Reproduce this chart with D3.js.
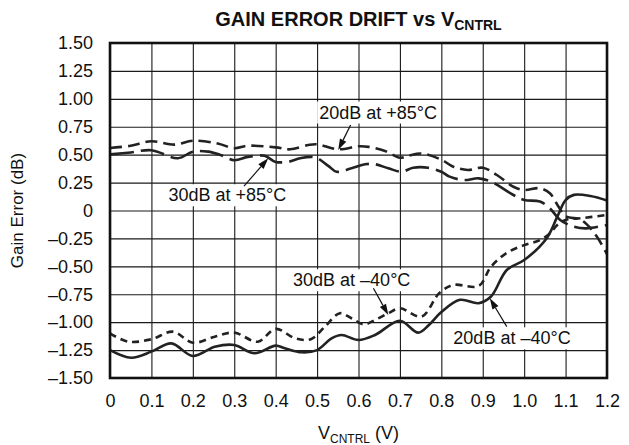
<!DOCTYPE html>
<html>
<head>
<meta charset="utf-8">
<script src="https://cdn.jsdelivr.net/npm/d3@7"></script>
<style>
  html, body { margin: 0; padding: 0; background: #fff; }
  svg { display: block; font-family: "Liberation Sans", Arial, Helvetica, sans-serif; }
</style>
</head>
<body>
<div id="chart"></div>
<script>
// ticks
const xTicks = [0, 0.1, 0.2, 0.3, 0.4, 0.5, 0.6, 0.7, 0.8, 0.9, 1.0, 1.1, 1.2];
const xTickLabels = ["0", "0.1", "0.2", "0.3", "0.4", "0.5", "0.6", "0.7", "0.8", "0.9", "1.0", "1.1", "1.2"];
const yTicks = [1.5, 1.25, 1.0, 0.75, 0.5, 0.25, 0, -0.25, -0.5, -0.75, -1.0, -1.25, -1.5];
const yTickLabels = ["1.50", "1.25", "1.00", "0.75", "0.50", "0.25", "0", "\u20130.25", "\u20130.50", "\u20130.75", "\u20131.00", "\u20131.25", "\u20131.50"];

// 20dB at +85°C (dashed)
const v20hot = [0, 0.05, 0.1, 0.156, 0.2, 0.26, 0.3, 0.333, 0.4, 0.435, 0.479, 0.5, 0.551, 0.6, 0.624, 0.664, 0.7, 0.72, 0.752, 0.8, 0.829, 0.864, 0.9, 0.934, 0.974, 1.0, 1.038, 1.062, 1.083, 1.1, 1.135, 1.15, 1.175, 1.2];
const g20hot = [0.56, 0.58, 0.62, 0.59, 0.625, 0.60, 0.557, 0.58, 0.565, 0.548, 0.587, 0.593, 0.548, 0.575, 0.57, 0.533, 0.473, 0.49, 0.51, 0.455, 0.392, 0.363, 0.383, 0.318, 0.213, 0.184, 0.199, 0.154, 0.034, -0.05, -0.08, -0.12, -0.23, -0.39];

// 30dB at +85°C (long dash)
const v30hot = [0, 0.05, 0.1, 0.164, 0.2, 0.237, 0.265, 0.3, 0.333, 0.373, 0.4, 0.435, 0.459, 0.495, 0.527, 0.547, 0.583, 0.616, 0.64, 0.672, 0.704, 0.732, 0.768, 0.8, 0.82, 0.855, 0.89, 0.92, 0.974, 1.0, 1.038, 1.062, 1.087, 1.12, 1.15, 1.2];
const g30hot = [0.503, 0.52, 0.54, 0.468, 0.527, 0.527, 0.50, 0.45, 0.48, 0.49, 0.435, 0.44, 0.468, 0.476, 0.40, 0.347, 0.378, 0.414, 0.414, 0.378, 0.347, 0.383, 0.383, 0.347, 0.303, 0.273, 0.288, 0.258, 0.139, 0.095, 0.08, 0.02, -0.085, -0.145, -0.16, -0.13];

// 30dB at -40°C (short dash)
const v30cold = [0, 0.044, 0.1, 0.152, 0.2, 0.253, 0.3, 0.357, 0.4, 0.447, 0.485, 0.519, 0.555, 0.583, 0.612, 0.64, 0.672, 0.7, 0.752, 0.795, 0.829, 0.89, 0.92, 0.958, 1.0, 1.038, 1.062, 1.08, 1.1, 1.135, 1.2];
const g30cold = [-1.10, -1.175, -1.153, -1.085, -1.184, -1.13, -1.094, -1.175, -1.06, -1.145, -1.153, -1.04, -0.92, -0.965, -1.02, -0.98, -0.92, -0.876, -0.95, -0.74, -0.667, -0.676, -0.503, -0.38, -0.31, -0.265, -0.205, -0.13, -0.085, -0.07, -0.04];

// 20dB at -40°C (solid)
const v20cold = [0, 0.051, 0.1, 0.148, 0.2, 0.253, 0.3, 0.349, 0.4, 0.422, 0.463, 0.5, 0.535, 0.559, 0.6, 0.64, 0.7, 0.744, 0.77, 0.8, 0.845, 0.89, 0.92, 0.958, 1.0, 1.054, 1.08, 1.1, 1.12, 1.16, 1.2];
const g20cold = [-1.25, -1.318, -1.264, -1.19, -1.303, -1.22, -1.204, -1.279, -1.21, -1.234, -1.27, -1.25, -1.145, -1.115, -1.16, -1.115, -0.987, -1.094, -1.025, -0.91, -0.80, -0.83, -0.77, -0.533, -0.444, -0.25, -0.055, 0.094, 0.14, 0.13, 0.09];

// annotations (data units): label position, arrow tail, arrow tip
const notes = [
  { text: "20dB at +85\u00B0C", x: 0.505, y: 0.88, x1: 0.581, y1: 0.766, x2: 0.551, y2: 0.542 },
  { text: "30dB at +85\u00B0C", x: 0.141, y: 0.139, x1: 0.3235, y1: 0.219, x2: 0.382, y2: 0.467 },
  { text: "30dB at \u201340\u00B0C", x: 0.442, y: -0.622, x1: 0.636, y1: -0.697, x2: 0.672, y2: -0.936 },
  { text: "20dB at \u201340\u00B0C", x: 0.829, y: -1.142, x1: 0.958, y1: -1.04, x2: 0.917, y2: -0.786 }
];

const width = 629, height = 445;
const margin = { top: 43, right: 22, bottom: 67, left: 110 };
const w = width - margin.left - margin.right;
const h = height - margin.top - margin.bottom;
const fs = 18;

const svg = d3.select("#chart").append("svg")
  .attr("width", width).attr("height", height);

const g = svg.append("g").attr("transform", `translate(${margin.left},${margin.top})`);

const x = d3.scaleLinear().domain([0, 1.2]).range([0, w]);
const y = d3.scaleLinear().domain([-1.5, 1.5]).range([h, 0]);

// grid
g.append("g").attr("class", "grid")
  .call(d3.axisLeft(y).tickValues(yTicks).tickSize(-w).tickFormat(""))
  .call(s => s.select(".domain").remove())
  .call(s => s.selectAll("line").attr("stroke", "#1a1a1a").attr("stroke-width", 1.1));
g.append("g").attr("class", "grid")
  .attr("transform", `translate(0,${h})`)
  .call(d3.axisBottom(x).tickValues(xTicks).tickSize(-h).tickFormat(""))
  .call(s => s.select(".domain").remove())
  .call(s => s.selectAll("line").attr("stroke", "#1a1a1a").attr("stroke-width", 1.1));

// tick labels
g.append("g")
  .call(d3.axisLeft(y).tickValues(yTicks).tickSize(0).tickPadding(17)
    .tickFormat((d, i) => yTickLabels[i]))
  .call(s => s.select(".domain").remove())
  .call(s => s.selectAll("text").attr("font-size", fs).attr("fill", "#111")
    .attr("font-family", "'Liberation Sans', Arial, sans-serif"));
g.append("g")
  .attr("transform", `translate(0,${h})`)
  .call(d3.axisBottom(x).tickValues(xTicks).tickSize(0).tickPadding(16)
    .tickFormat((d, i) => xTickLabels[i]))
  .call(s => s.select(".domain").remove())
  .call(s => s.selectAll("text").attr("font-size", fs).attr("fill", "#111")
    .attr("font-family", "'Liberation Sans', Arial, sans-serif"));

// curves
const series = [
  { v: v20hot, g: g20hot, dash: "12,6" },
  { v: v30hot, g: g30hot, dash: "24,7" },
  { v: v30cold, g: g30cold, dash: "7,5" },
  { v: v20cold, g: g20cold, dash: null }
];
const line = d3.line()
  .x(d => x(d[0])).y(d => y(d[1]))
  .curve(d3.curveCatmullRom.alpha(0.5));

const plot = g.append("g");
series.forEach(s => {
  plot.append("path")
    .datum(s.v.map((v, i) => [v, s.g[i]]))
    .attr("d", line)
    .attr("fill", "none")
    .attr("stroke", "#222")
    .attr("stroke-width", 2.6)
    .attr("stroke-dasharray", s.dash);
});

// annotations
const ann = g.append("g").attr("font-size", fs).attr("fill", "#111");
notes.forEach(n => {
  const t = ann.append("text")
    .attr("x", x(n.x)).attr("y", y(n.y))
    .attr("dy", "0.35em")
    .text(n.text);
  const bb = t.node().getBBox();
  ann.insert("rect", "text")
    .attr("x", bb.x - 2).attr("y", bb.y - 1)
    .attr("width", bb.width + 4).attr("height", bb.height + 2)
    .attr("fill", "#fff");
  const x1 = x(n.x1), y1 = y(n.y1), x2 = x(n.x2), y2 = y(n.y2);
  const ang = Math.atan2(y2 - y1, x2 - x1);
  const len = 11, hw = 3.5;
  const bx = x2 - len * Math.cos(ang), by = y2 - len * Math.sin(ang);
  ann.append("line")
    .attr("x1", x1).attr("y1", y1).attr("x2", bx).attr("y2", by)
    .attr("stroke", "#111").attr("stroke-width", 1.2);
  ann.append("path")
    .attr("d", `M${x2},${y2}L${bx + hw * Math.sin(ang)},${by - hw * Math.cos(ang)}L${bx - hw * Math.sin(ang)},${by + hw * Math.cos(ang)}Z`)
    .attr("fill", "#111");
});

// frame
g.append("rect")
  .attr("width", w).attr("height", h)
  .attr("fill", "none").attr("stroke", "#111").attr("stroke-width", 2.6);

// title
const title = svg.append("text")
  .attr("x", margin.left + w / 2).attr("y", 26)
  .attr("text-anchor", "middle")
  .attr("font-size", 20).attr("font-weight", "bold").attr("fill", "#111");
title.append("tspan").text("GAIN ERROR DRIFT vs V");
title.append("tspan").attr("font-size", 14).attr("dy", 4).text("CNTRL");

// x label
const xl = svg.append("text")
  .attr("x", margin.left + w / 2).attr("y", 439)
  .attr("text-anchor", "middle")
  .attr("font-size", fs).attr("fill", "#111");
xl.append("tspan").text("V");
xl.append("tspan").attr("font-size", 12).attr("dy", 4).text("CNTRL");
xl.append("tspan").attr("dy", -4).text(" (V)");

// y label
svg.append("text")
  .attr("transform", `translate(23,${margin.top + h / 2}) rotate(-90)`)
  .attr("text-anchor", "middle")
  .attr("font-size", 17).attr("fill", "#111")
  .text("Gain Error (dB)");
</script>
</body>
</html>
